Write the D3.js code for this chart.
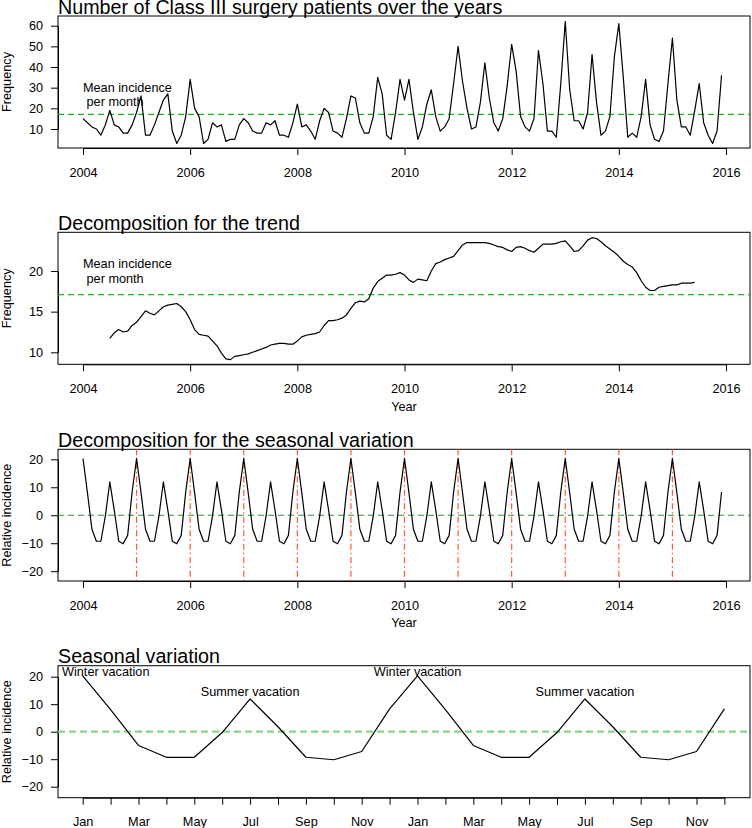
<!DOCTYPE html>
<html><head><meta charset="utf-8">
<script src="https://cdn.jsdelivr.net/npm/d3@7"></script>
<style>
body{margin:0;background:#fff}
svg{display:block}
text{font-family:"Liberation Sans",Arial,Helvetica,sans-serif;fill:#000}
</style>
</head><body>
<svg id="chart" width="752" height="828"></svg>
<script>
// ---------------- DATA ----------------
const startYear = 2004;
// Monthly number of Class III surgery patients, Jan 2004 .. Dec 2015
const monthlyCounts = [
  15, 13, 11, 10, 7, 12, 19, 12, 11, 8, 8, 12,      // 2004
  18, 26, 7, 7, 12, 18, 24, 27, 9, 3, 7, 16,        // 2005
  34, 20, 16, 3, 5, 13, 11, 12, 4, 5, 5, 12,        // 2006
  15, 13, 9, 8, 8, 13, 12, 14, 7, 7, 6, 13,         // 2007
  22, 11, 12, 9, 5, 14, 20, 18, 9, 8, 6, 15,        // 2008
  26, 25, 13, 8, 8, 16, 35, 27, 7, 5, 18, 34,       // 2009
  24, 34, 18, 5, 11, 22, 29, 16, 9, 11, 15, 32,     // 2010
  50, 33, 20, 10, 11, 23, 42, 25, 13, 9, 15, 31,    // 2011
  51, 38, 16, 11, 9, 15, 48, 32, 9, 9, 6, 32,       // 2012
  62, 29, 14, 14, 10, 18, 46, 23, 7, 9, 16, 45,     // 2013
  61, 35, 6, 8, 6, 16, 34, 12, 5, 4, 9, 32,         // 2014
  54, 24, 11, 11, 7, 19, 32, 13, 7, 3, 9, 36        // 2015
];
// Trend component, Jul 2004 .. Jun 2015 (month index 6 .. 137)
const trendStartIndex = 6;
const trendValues = [
  11.7, 12.4, 12.8, 12.5, 12.6, 13.3,
  13.7, 14.4, 15.1, 14.8, 14.6, 15.1, 15.6, 15.8, 15.9, 16.0, 15.6, 15.0,
  14.0, 12.8, 12.2, 12.1, 12.0, 11.4, 10.8, 9.9, 9.2, 9.1, 9.5, 9.6,
  9.7, 9.8, 10.0, 10.2, 10.4, 10.6, 10.9, 11.0, 11.1, 11.1, 11.0, 11.0,
  11.4, 11.9, 12.1, 12.2, 12.3, 12.5, 13.3, 13.9, 13.9, 14.0, 14.2, 14.6,
  15.4, 16.1, 16.3, 16.2, 16.6, 17.9, 18.7, 19.1, 19.5, 19.5, 19.6, 19.8,
  19.5, 18.9, 18.6, 19.0, 18.9, 18.8, 20.0, 20.9, 21.1, 21.4, 21.6, 21.8,
  22.5, 23.2, 23.5, 23.5, 23.5, 23.5, 23.5, 23.4, 23.2, 23.0, 22.9, 22.6,
  22.4, 22.9, 23.0, 22.8, 22.5, 22.3, 22.8, 23.3, 23.3, 23.3, 23.4, 23.6,
  23.7, 23.1, 22.4, 22.5, 23.1, 23.8, 24.1, 24.0, 23.6, 23.1, 22.7, 22.3,
  21.8, 21.2, 20.8, 20.5, 19.8, 18.8, 18.0, 17.6, 17.6, 18.0, 18.1, 18.2,
  18.3, 18.3, 18.5, 18.5, 18.5, 18.6
];
// Seasonal component (relative incidence) Jan..Dec
const seasonalEffect = [20.3, 8.0, -5.0, -9.3, -9.3, -0.3, 11.9, 1.8, -9.3, -10.2, -7.2, 8.3];
const monthNames = ["Jan","Feb","Mar","Apr","May","Jun","Jul","Aug","Sep","Oct","Nov","Dec"];
const meanIncidence = 17.1;
const yearTicks = [2004, 2006, 2008, 2010, 2012, 2014, 2016];
const januaryMarks = [2005, 2006, 2007, 2008, 2009, 2010, 2011, 2012, 2013, 2014, 2015];
const countTicks = [10, 20, 30, 40, 50, 60];
const trendTicks = [10, 15, 20];
const relTicks = [-20, -10, 0, 10, 20];
const titles = ["Number of Class III surgery patients over the years",
  "Decomposition for the trend", "Decomposition for the seasonal variation", "Seasonal variation"];
const vacationLabels = ["Winter vacation", "Summer vacation"];

// ---------------- DRAWING ----------------
const svg = d3.select("#chart");
const FS = 12.7;
const L = 58, R = 750;

function panel(o) {
  const g = svg.append("g");
  g.append("rect").attr("x", L).attr("y", o.top).attr("width", R - L).attr("height", o.bottom - o.top)
    .attr("fill", "none").attr("stroke", "#000").attr("stroke-width", 1);
  g.append("text").attr("x", L).attr("y", o.top - 2.5).attr("font-size", 19.7).text(o.title);
  const xa = g.append("g").attr("transform", `translate(0,${o.bottom})`)
    .call(d3.axisBottom(o.x).tickValues(o.xTicks).tickSize(7).tickSizeOuter(0).tickPadding(12.6)
      .tickFormat(o.xFormat || d3.format("d")));
  const ya = g.append("g").attr("transform", `translate(${L},0)`)
    .call(d3.axisLeft(o.y).tickValues(o.yTicks).tickSize(7).tickSizeOuter(0).tickPadding(8)
      .tickFormat(d3.format("d")));
  [xa, ya].forEach(a => {
    a.attr("font-size", null).attr("font-family", null);
    a.selectAll("text").attr("font-size", FS);
    a.selectAll("line,path").attr("stroke", "#000");
  });
  g.append("text").attr("transform", `translate(11,${(o.top + o.bottom) / 2}) rotate(-90)`)
    .attr("text-anchor", "middle").attr("font-size", FS).text(o.ylabel);
  if (o.xlabel) {
    g.append("text").attr("x", (L + R) / 2).attr("y", o.bottom + 42).attr("dy", "0.35em")
      .attr("text-anchor", "middle").attr("font-size", FS).text(o.xlabel);
  }
  return g;
}

const monthTime = i => startYear + i / 12;
const lineStyle = p => p.attr("fill", "none").attr("stroke", "#000").attr("stroke-width", 1.2)
  .attr("stroke-linejoin", "round");

// Panel 1
{
  const x = d3.scaleLinear().domain([2004, 2016]).range([83, 726]);
  const y = d3.scaleLinear().domain([10, 60]).range([129, 25.7]);
  const g = panel({top: 16, bottom: 148, x, y, xTicks: yearTicks, yTicks: countTicks, title: titles[0], ylabel: "Frequency"});
  g.append("line").attr("x1", L).attr("x2", R).attr("y1", y(meanIncidence)).attr("y2", y(meanIncidence))
    .attr("stroke", "#19b919").attr("stroke-width", 1.2).attr("stroke-dasharray", "6,4");
  g.append("path").datum(monthlyCounts)
    .attr("d", d3.line().x((d, i) => x(monthTime(i))).y(d => y(d))).call(lineStyle);
  const t = g.append("text").attr("x", 83).attr("y", 91.5).attr("font-size", FS);
  t.append("tspan").attr("x", 83).text("Mean incidence");
  t.append("tspan").attr("x", 83).attr("dy", 14.5).text("\u00a0per month");
}

// Panel 2
{
  const x = d3.scaleLinear().domain([2004, 2016]).range([83, 726]);
  const y = d3.scaleLinear().domain([10, 20]).range([352.3, 271]);
  const g = panel({top: 232.3, bottom: 364.3, x, y, xTicks: yearTicks, yTicks: trendTicks, title: titles[1], ylabel: "Frequency", xlabel: "Year"});
  g.append("line").attr("x1", L).attr("x2", R).attr("y1", y(meanIncidence)).attr("y2", y(meanIncidence))
    .attr("stroke", "#19b919").attr("stroke-width", 1.2).attr("stroke-dasharray", "6,4");
  g.append("path").datum(trendValues)
    .attr("d", d3.line().x((d, i) => x(monthTime(i + trendStartIndex))).y(d => y(d))).call(lineStyle);
  const t = g.append("text").attr("x", 83).attr("y", 267.7).attr("font-size", FS);
  t.append("tspan").attr("x", 83).text("Mean incidence");
  t.append("tspan").attr("x", 83).attr("dy", 15).text("\u00a0per month");
}

// Panel 3
{
  const x = d3.scaleLinear().domain([2004, 2016]).range([83, 726]);
  const y = d3.scaleLinear().domain([-20, 20]).range([571.2, 459.3]);
  const g = panel({top: 449.3, bottom: 581, x, y, xTicks: yearTicks, yTicks: relTicks, title: titles[2], ylabel: "Relative incidence", xlabel: "Year"});
  g.append("line").attr("x1", L).attr("x2", R).attr("y1", y(0)).attr("y2", y(0))
    .attr("stroke", "#2a9a2a").attr("stroke-width", 1.1).attr("stroke-dasharray", "6,4");
  g.selectAll("line.jan").data(januaryMarks).enter().append("line")
    .attr("x1", d => x(d)).attr("x2", d => x(d)).attr("y1", 449.3).attr("y2", 581)
    .attr("stroke", "#ff5a2a").attr("stroke-width", 1.2).attr("stroke-dasharray", "6,3,1.5,3");
  const seasonalSeries = monthlyCounts.map((d, i) => seasonalEffect[i % 12]);
  g.append("path").datum(seasonalSeries)
    .attr("d", d3.line().x((d, i) => x(monthTime(i))).y(d => y(d))).call(lineStyle);
}

// Panel 4
{
  const x = d3.scaleLinear().domain([1, 24]).range([82.7, 724.4]);
  const y = d3.scaleLinear().domain([-20, 20]).range([786.7, 676.7]);
  const months = d3.range(1, 25);
  const g = panel({top: 665.7, bottom: 797.7, x, y, xTicks: months, yTicks: relTicks, title: titles[3], ylabel: "Relative incidence",
    xFormat: m => ((m - 1) % 2 === 0 ? monthNames[(m - 1) % 12] : "")});
  g.append("line").attr("x1", L).attr("x2", R).attr("y1", y(0)).attr("y2", y(0))
    .attr("stroke", "#86d686").attr("stroke-width", 2.2).attr("stroke-dasharray", "7,4");
  const twoYears = seasonalEffect.concat(seasonalEffect);
  g.append("path").datum(twoYears)
    .attr("d", d3.line().x((d, i) => x(i + 1)).y(d => y(d))).call(lineStyle);
  g.append("text").attr("x", 62).attr("y", 676).attr("font-size", FS).text(vacationLabels[0]);
  g.append("text").attr("x", x(13)).attr("y", 676).attr("text-anchor", "middle").attr("font-size", FS).text(vacationLabels[0]);
  g.append("text").attr("x", x(7)).attr("y", 695.5).attr("text-anchor", "middle").attr("font-size", FS).text(vacationLabels[1]);
  g.append("text").attr("x", x(19)).attr("y", 695.5).attr("text-anchor", "middle").attr("font-size", FS).text(vacationLabels[1]);
}
</script>
</body></html>
